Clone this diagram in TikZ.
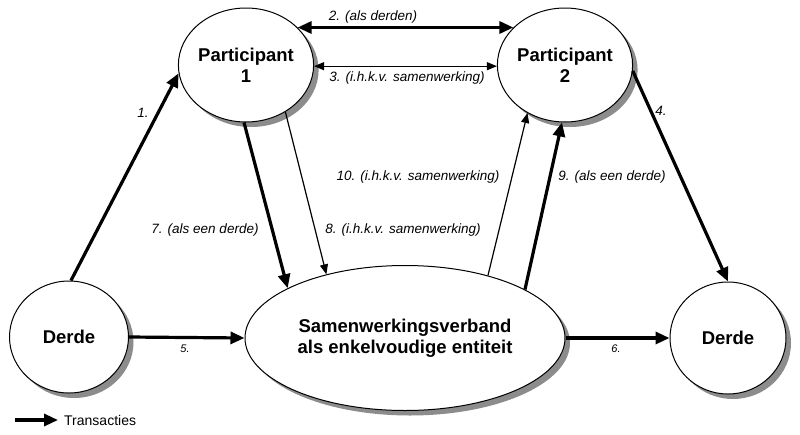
\documentclass[tikz,border=0pt]{standalone}
\usepackage{fontspec}
\setmainfont{Liberation Sans}
\usetikzlibrary{shapes.geometric,arrows.meta,shadows}
\begin{document}
\begin{tikzpicture}[x=1pt,y=-1pt,
  ent/.style={ellipse, draw=black, line width=1pt, fill=white, inner sep=0pt,
    font=\fontsize{18.5}{21}\selectfont\bfseries, align=center,
    drop shadow={shadow xshift=5pt, shadow yshift=-5pt, fill=black!45, opacity=1}},
  thickarr/.style={line width=3.2pt, -{Triangle[length=14pt,width=12pt]}},
  thinarr/.style={line width=1.2pt, -{Triangle[length=10pt,width=8pt]}},
  lbl/.style={font=\fontsize{13.5}{15}\selectfont\itshape, inner sep=0pt},
  slbl/.style={font=\fontsize{11}{12}\selectfont\itshape, inner sep=0pt}
]
\useasboundingbox (0,0) rectangle (800,434);
\node[ent, minimum width=119pt, minimum height=114pt] (p1) at (246,65) {Participant\\1};
\node[ent, minimum width=119pt, minimum height=114pt] (p2) at (565,65) {Participant\\2};
\node[ent, minimum width=119pt, minimum height=112pt] (d1) at (69,337) {Derde};
\node[ent, minimum width=116pt, minimum height=112pt] (d2) at (728,338) {Derde};
\node[ent, minimum width=320pt, minimum height=145pt] (sv) at (405,338) {Samenwerkingsverband\\als enkelvoudige entiteit};

% connectors
\draw[thickarr] (d1.88) -- (p1.187);
\draw[line width=3.2pt, {Triangle[length=14pt,width=12pt]}-{Triangle[length=14pt,width=12pt]}] (p1.36) -- (p2.144);
\draw[line width=1.2pt, {Triangle[length=10pt,width=8pt]}-{Triangle[length=10pt,width=8pt]}] (p1.-1) -- (p2.181);
\draw[thickarr] (p2.-5) -- (d2.north);
\draw[thickarr] (d1.east) -- (sv.west);
\draw[thickarr] (sv.east) -- (d2.west);
\draw[thickarr] (p1.268) -- (sv.157);
\draw[thinarr] (p1.310) -- (sv.141);
\draw[thinarr] (sv.37) -- (p2.232);
\draw[thickarr] (sv.22) -- (p2.267);

% labels
\node[lbl] (l1) at (143,113) {1.};
\node[lbl] (l2) at (373,17) {2. (als derden)};
\node[lbl] (l3) at (407,78) {3. (i.h.k.v. samenwerking)};
\node[lbl] (l4) at (661,111) {4.};
\node[slbl] (l5) at (185,349) {5.};
\node[slbl] (l6) at (616,349) {6.};
\node[lbl] (l7) at (205,230) {7. (als een derde)};
\node[lbl] (l8) at (403,230) {8. (i.h.k.v. samenwerking)};
\node[lbl] (l10) at (418,177) {10. (i.h.k.v. samenwerking)};
\node[lbl] (l9) at (612,177) {9. (als een derde)};

% legend
\coordinate (la) at (15,420);
\coordinate (lb) at (58,420);
\draw[thickarr] (la) -- (lb);
\node[font=\fontsize{14}{16}\selectfont, anchor=west, inner sep=0pt] (lt) at (64,420) {Transacties};
\end{tikzpicture}
\end{document}
